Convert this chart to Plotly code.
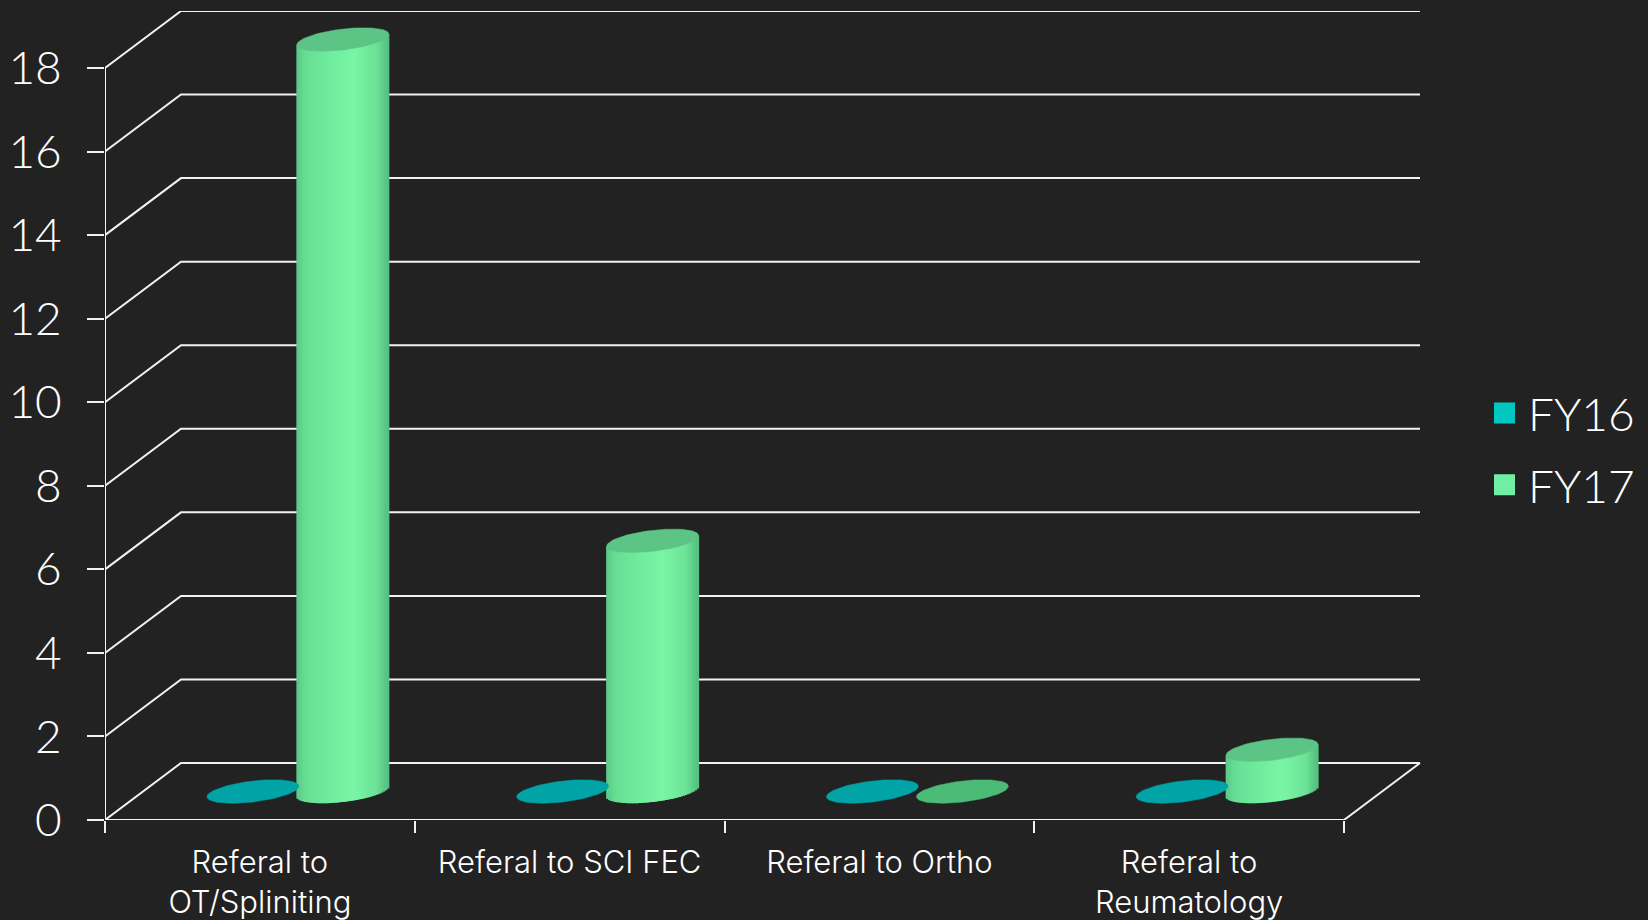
import numpy as np
import plotly.graph_objects as go

# Chart data
categories = ["Referal to<br>OT/Spliniting", "Referal to SCI FEC", "Referal to Ortho", "Referal to<br>Reumatology"]
fy16 = [0, 0, 0, 0]
fy17 = [18, 6, 0, 1]
y_ticks = [0, 2, 4, 6, 8, 10, 12, 14, 16, 18]

# Page layout in pixels
W, H = 1648, 920
LEFT, RIGHT_END, TOP, BOTTOM = 105, 1421, 11, 820
PX_X = (1344 - 105) / 4      # pixels per category
PX_Y = (820 - 68) / 18       # pixels per unit of value
DEPTH_X = 76 / PX_X          # oblique depth of the floor, in data units
DEPTH_Y = 57 / PX_Y

# Cylinder shape in pixels
RADIUS = 46
MINOR = 10.5
TILT = 0.115
SPACING = 45
STRIPS = 46

BG = "#222222"
GRID = "#f2f2f2"
TEAL_SWATCH, GREEN_SWATCH = "#00c8c0", "#70eea4"
TEAL_CAP, GREEN_CAP = "#00a3a6", "#5cc586"
GREEN_ZERO = "#4dbb78"
FONT = "Lato"
LABEL_FONT = "Inter"
LIGHT = 300

fig = go.Figure()

# Back wall, side wall and floor lines
wx, wy = [], []
for v in y_ticks:
    wx += [0, DEPTH_X, 4 + DEPTH_X, None]
    wy += [v, v + DEPTH_Y, v + DEPTH_Y, None]
wx += [0, 0, None, 0, 4, 4 + DEPTH_X]
wy += [0, y_ticks[-1], None, 0, 0, DEPTH_Y]
fig.add_trace(go.Scatter(x=wx, y=wy, mode="lines", line=dict(color=GRID, width=2),
                         showlegend=False, hoverinfo="skip", zorder=0))


def shade(u):
    """Side colour of the green cylinder at u in [-1, 1] across its width."""
    stops_u = [-1.0, -0.8, -0.3, 0.25, 0.75, 1.0]
    stops_c = [(92, 200, 136), (104, 222, 148), (112, 236, 158), (122, 246, 166), (108, 226, 150), (84, 190, 128)]
    c = [np.interp(u, stops_u, [s[i] for s in stops_c]) for i in range(3)]
    return "rgb(%d,%d,%d)" % tuple(c)


def ellipse(xc, yc):
    t = np.linspace(0, 2 * np.pi, 90)
    px, py = RADIUS * np.cos(t), TILT * RADIUS * np.cos(t) + MINOR * np.sin(t)
    return xc + px / PX_X, yc + py / PX_Y


def draw_cylinder(cat, side, value, cap):
    xc = cat + 0.5 + DEPTH_X / 2 + side * SPACING / PX_X
    yc = DEPTH_Y / 2
    if value > 0:
        # The side is a run of narrow bars whose bottoms follow the lower rim
        u = (np.arange(STRIPS) + 0.5) / STRIPS * 2 - 1
        rim = MINOR * np.sqrt(1 - u ** 2) / PX_Y
        tilt = TILT * RADIUS * u / PX_Y
        fig.add_trace(go.Bar(
            x=xc + u * RADIUS / PX_X,
            y=value + rim,
            base=yc + tilt - rim,
            width=3 / PX_X,
            marker=dict(color=[shade(a) for a in u], line=dict(width=0)),
            showlegend=False, hoverinfo="skip", zorder=1))
    ex, ey = ellipse(xc, yc + value)
    fig.add_trace(go.Scatter(x=ex, y=ey, mode="lines", fill="toself", fillcolor=cap,
                             line=dict(color=cap, width=0.5), showlegend=False,
                             hoverinfo="skip", zorder=2))


for i in range(len(categories)):
    draw_cylinder(i, -1, fy16[i], TEAL_CAP)
    draw_cylinder(i, 1, fy17[i], GREEN_CAP if fy17[i] > 0 else GREEN_ZERO)

# Legend entries
for name, colour in [("FY16", TEAL_SWATCH), ("FY17", GREEN_SWATCH)]:
    fig.add_trace(go.Scatter(x=[None], y=[None], mode="markers", name=name, legendgroup=name,
                             marker=dict(symbol="square", size=16, color=colour,
                                         line=dict(color=colour, width=5))))

fig.update_layout(
    width=W, height=H,
    autosize=False,
    paper_bgcolor=BG, plot_bgcolor=BG,
    barmode="overlay",
    margin=dict(l=LEFT, r=W - RIGHT_END, t=TOP, b=H - BOTTOM, autoexpand=False),
    font=dict(family=FONT, color="#ffffff"),
    legend=dict(x=1481 / W, xref="container", y=1 - 449 / H, yref="container",
                font=dict(size=46, family=FONT, color="#ffffff", weight=LIGHT),
                yanchor="middle", xanchor="left", tracegroupgap=9, bgcolor="rgba(0,0,0,0)",
                itemwidth=37),
    xaxis=dict(
        range=[0, (RIGHT_END - LEFT) / PX_X],
        tickmode="array", tickvals=[i + 0.5 for i in range(4)], ticktext=categories,
        ticks="", showgrid=False, zeroline=False, showline=False,
        tickfont=dict(size=31, family=LABEL_FONT, color="#ffffff", weight=LIGHT), ticklabelstandoff=21,
        minor=dict(tickmode="array", tickvals=[0, 1, 2, 3, 4], ticks="outside", ticklen=12,
                   tickcolor=GRID, tickwidth=2, showgrid=False),
    ),
    yaxis=dict(
        range=[0, (BOTTOM - TOP) / PX_Y],
        tickmode="array", tickvals=y_ticks, ticks="outside", ticklen=17, tickcolor=GRID, tickwidth=2,
        showgrid=False, zeroline=False, showline=False,
        tickfont=dict(size=46, family=FONT, color="#ffffff", weight=LIGHT), ticklabelstandoff=16,
    ),
)

fig.write_html("out.html")
